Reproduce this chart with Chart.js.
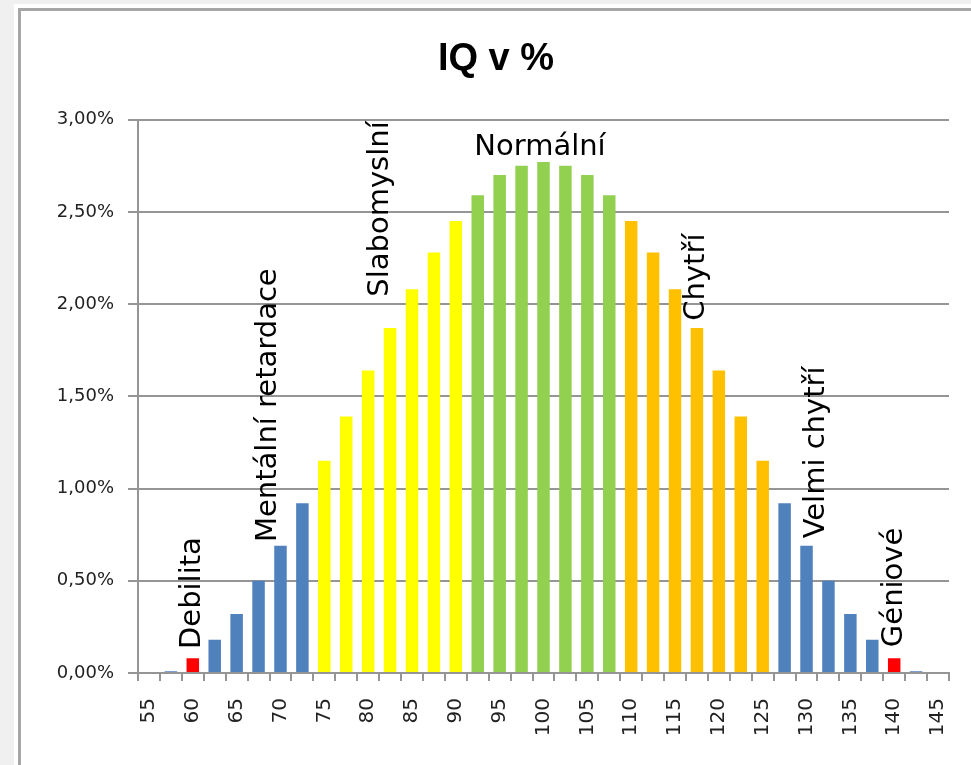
<!DOCTYPE html>
<html>
<head>
<meta charset="utf-8">
<title>IQ v %</title>
<script src="https://cdn.jsdelivr.net/npm/chart.js@4/dist/chart.umd.min.js"></script>
<style>
  html, body { margin: 0; padding: 0; background: #f0f0f0; overflow: hidden; }
  #sheet { position: absolute; left: 14px; top: 4px; width: 957px; height: 761px; background: #fff; }
  #frame { position: absolute; left: 18px; top: 8px; width: 960px; height: 770px;
           border-left: 3px solid #a6a6a6; border-top: 3px solid #a6a6a6; background: #fff; }
  #wrap { position: absolute; left: 21px; top: 11px; width: 950px; height: 754px; }
</style>
</head>
<body>
<div id="sheet"></div>
<div id="frame"></div>
<div id="wrap"><canvas id="myChart"></canvas></div>
<script>
// IQ categories (step 2.5), labelled every 5 on the axis
const categories = [55, 57.5, 60, 62.5, 65, 67.5, 70, 72.5, 75, 77.5, 80, 82.5, 85, 87.5, 90, 92.5, 95, 97.5,
  100, 102.5, 105, 107.5, 110, 112.5, 115, 117.5, 120, 122.5, 125, 127.5, 130, 132.5, 135, 137.5, 140, 142.5, 145];

// share of population in %
const shares = [0, 0.01, 0.08, 0.18, 0.32, 0.50, 0.69, 0.92, 1.15, 1.39, 1.64, 1.87, 2.08, 2.28, 2.45, 2.59, 2.70, 2.75,
  2.77, 2.75, 2.70, 2.59, 2.45, 2.28, 2.08, 1.87, 1.64, 1.39, 1.15, 0.92, 0.69, 0.50, 0.32, 0.18, 0.08, 0.01, 0];

// group each bar belongs to
const groups = ['low', 'low', 'edge', 'low', 'low', 'low', 'low', 'low', 'weak', 'weak', 'weak', 'weak', 'weak', 'weak', 'weak',
  'normal', 'normal', 'normal', 'normal', 'normal', 'normal', 'normal', 'smart', 'smart', 'smart', 'smart', 'smart', 'smart', 'smart',
  'low', 'low', 'low', 'low', 'low', 'edge', 'low', 'low'];

const yTicks = [0, 0.5, 1, 1.5, 2, 2.5, 3];

// text labels on the chart: IQ value and % value where the text starts
const notes = [
  {text: 'Debilita', iq: 60, pct: 0.13, vertical: true},
  {text: 'Mentální retardace', iq: 68.6, pct: 0.71, vertical: true},
  {text: 'Slabomyslní', iq: 81.4, pct: 2.04, vertical: true},
  {text: 'Normální', iq: 99.6, pct: 2.81, vertical: false},
  {text: 'Chytří', iq: 117.5, pct: 1.91, vertical: true},
  {text: 'Velmi chytří', iq: 131.1, pct: 0.73, vertical: true},
  {text: 'Géniové', iq: 140, pct: 0.14, vertical: true}
];

const groupColors = {low: '#4f81bd', edge: '#ff0000', weak: '#ffff00', normal: '#92d050', smart: '#ffc000'};
const gridColor = '#959595';

const notesPlugin = {
  id: 'notes',
  afterDatasetsDraw(chart) {
    const ctx = chart.ctx;
    const xs = chart.scales.x;
    const ys = chart.scales.y;
    ctx.save();
    ctx.fillStyle = '#000';
    ctx.font = '29px "DejaVu Sans"';
    notes.forEach(n => {
      const px = xs.getPixelForValue((n.iq - categories[0]) / 2.5);
      const py = ys.getPixelForValue(n.pct);
      if (n.vertical) {
        ctx.save();
        ctx.translate(px, py);
        ctx.rotate(-Math.PI / 2);
        ctx.textAlign = 'left';
        ctx.textBaseline = 'middle';
        ctx.fillText(n.text, 0, 0);
        ctx.restore();
      } else {
        ctx.textAlign = 'center';
        ctx.textBaseline = 'alphabetic';
        ctx.fillText(n.text, px, py);
      }
    });
    ctx.restore();
  }
};

var ctx = document.getElementById('myChart').getContext('2d');
var myChart = new Chart(ctx, {
  type: 'bar',
  data: {
    labels: categories,
    datasets: [{
      data: shares,
      backgroundColor: groups.map(g => groupColors[g]),
      borderWidth: 0,
      categoryPercentage: 1,
      barPercentage: 0.57
    }]
  },
  options: {
    responsive: true,
    maintainAspectRatio: false,
    animation: false,
    layout: {padding: {left: 22, right: 22, top: 0, bottom: 0}},
    plugins: {
      legend: {display: false},
      tooltip: {enabled: false},
      title: {
        display: true,
        text: 'IQ v %',
        color: '#000',
        font: {family: '"Liberation Sans", Arial, sans-serif', size: 38, weight: 'bold'},
        padding: {top: 26, bottom: 37}
      }
    },
    scales: {
      x: {
        offset: true,
        afterFit(s) {
          s.height = 92;
          s.paddingLeft = 0;
          s.paddingRight = 0;
        },
        grid: {display: true, drawOnChartArea: false, drawTicks: true, tickLength: 8, offset: true, color: gridColor, lineWidth: 2},
        border: {display: true, color: gridColor, width: 2},
        ticks: {
          autoSkip: false,
          minRotation: 90,
          maxRotation: 90,
          padding: 17,
          color: '#222',
          font: {family: '"DejaVu Sans", sans-serif', size: 20},
          callback: (v, i) => (i % 2 === 0 ? String(categories[i]) : '')
        }
      },
      y: {
        min: yTicks[0],
        max: yTicks[yTicks.length - 1],
        afterFit(s) { s.width = 95; },
        afterBuildTicks(s) { s.ticks = yTicks.map(v => ({value: v})); },
        grid: {color: gridColor, lineWidth: 2, tickLength: 10},
        border: {display: true, color: gridColor, width: 2},
        ticks: {
          padding: 14,
          color: '#222',
          font: {family: '"DejaVu Sans", sans-serif', size: 18},
          callback: v => v.toFixed(2).replace('.', ',') + '%'
        }
      }
    }
  },
  plugins: [notesPlugin]
});
</script>
</body>
</html>
